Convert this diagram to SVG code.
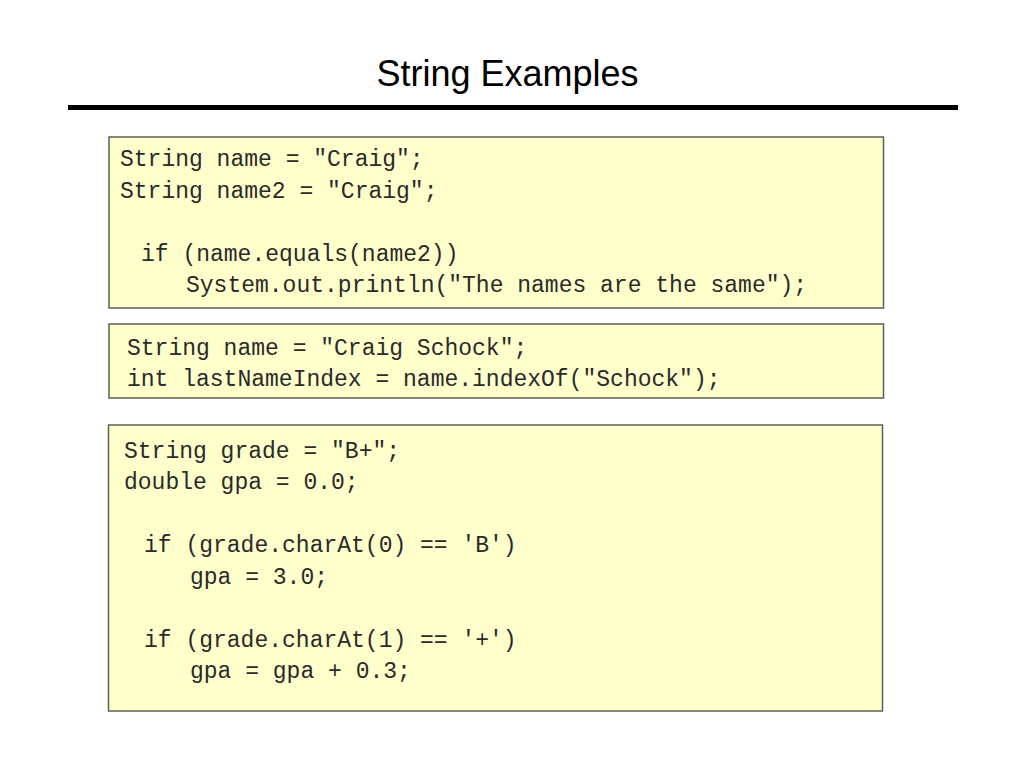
<svg xmlns="http://www.w3.org/2000/svg" width="1023" height="767" viewBox="0 0 1023 767">
<style>
.title{font-family:"Liberation Sans",Arial,sans-serif;font-size:36px;fill:#000;text-anchor:middle}
.box{fill:#FFFFCC;stroke:#5f5f52;stroke-width:1.5}
.code{font-family:"Liberation Mono","Courier New",monospace;font-size:23px;fill:#2a2a2a}
</style>
<rect width="1023" height="767" fill="#fff"/>
<g id="title">
<text class="title" x="507.5" y="86">String Examples</text>
<rect x="68" y="105" width="890" height="5" fill="#000"/>
</g>
<g id="box1">
<rect class="box" x="109" y="137" width="774.5" height="171"/>
<text class="code" x="120" y="166">String name = "Craig";</text>
<text class="code" x="120" y="197.5">String name2 = "Craig";</text>
<text class="code" x="141" y="260.5">if (name.equals(name2))</text>
<text class="code" x="186" y="292">System.out.println("The names are the same");</text>
</g>
<g id="box2">
<rect class="box" x="109" y="324" width="774.5" height="74"/>
<text class="code" x="127" y="354.5">String name = "Craig Schock";</text>
<text class="code" x="127" y="386">int lastNameIndex = name.indexOf("Schock");</text>
</g>
<g id="box3">
<rect class="box" x="108.5" y="425" width="774" height="286"/>
<text class="code" x="124" y="457.5">String grade = "B+";</text>
<text class="code" x="124" y="489">double gpa = 0.0;</text>
<text class="code" x="144" y="552">if (grade.charAt(0) == 'B')</text>
<text class="code" x="190" y="583.5">gpa = 3.0;</text>
<text class="code" x="144" y="646.5">if (grade.charAt(1) == '+')</text>
<text class="code" x="190" y="678">gpa = gpa + 0.3;</text>
</g>
<g id="connectors"></g>
</svg>
